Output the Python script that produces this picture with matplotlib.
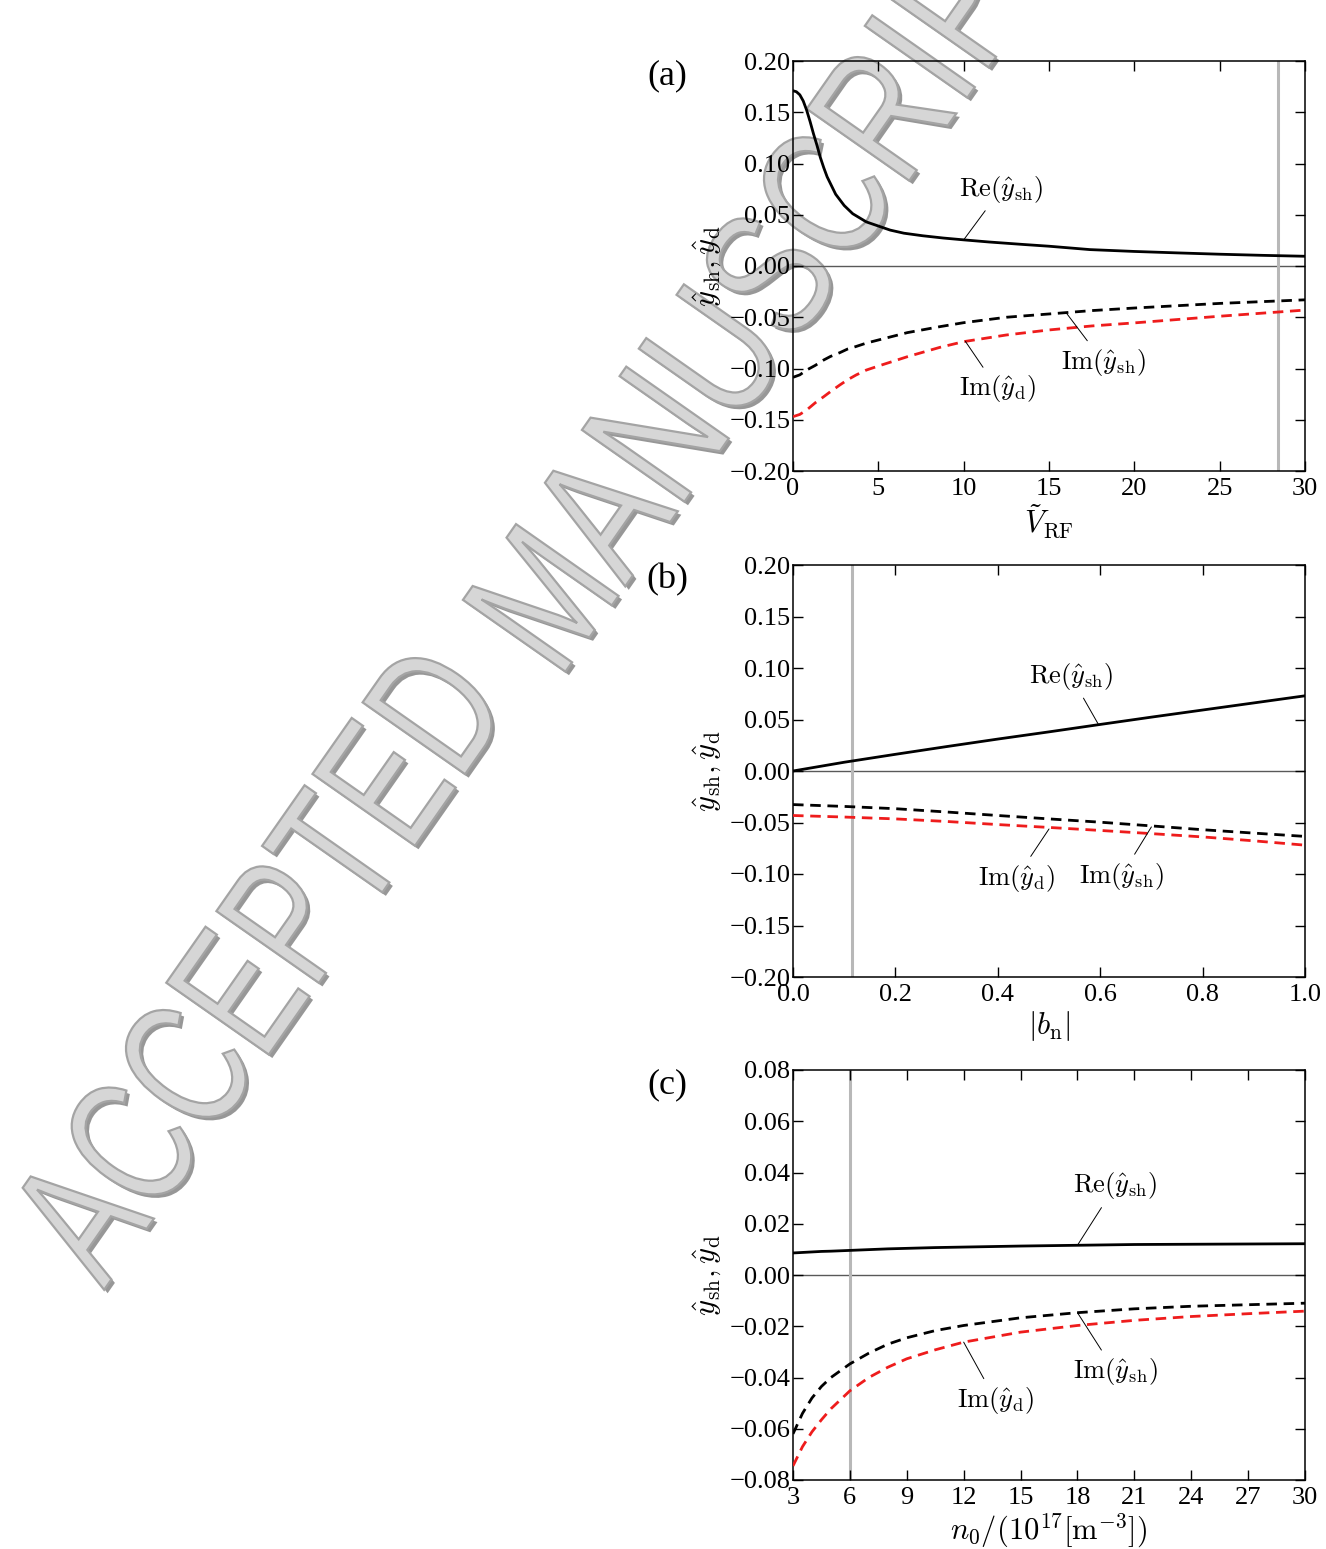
import numpy as np
import matplotlib
matplotlib.use('Agg')
from matplotlib import pyplot as plt
import matplotlib.transforms as mtransforms
import matplotlib.patheffects as pe
from matplotlib.textpath import TextPath
from matplotlib.font_manager import FontProperties
from matplotlib.patches import PathPatch

plt.rcParams['font.family'] = ['Liberation Serif', 'DejaVu Serif']
plt.rcParams['mathtext.fontset'] = 'cm'

# (a) зависимость от V_RF
v_re = [0, 0.2, 0.4, 0.6, 0.8, 1.0, 1.2, 1.4, 1.6, 1.8, 2.0, 2.5, 3.0, 3.5, 4.3, 5.0, 5.7, 6.5,
        7.6, 8.8, 10, 11.5, 13.5, 15, 17.4, 20, 22.5, 25, 27.5, 30]
re_a = [0.171, 0.170, 0.167, 0.161, 0.152, 0.141, 0.129, 0.118, 0.106, 0.096, 0.087, 0.070,
        0.059, 0.051, 0.043, 0.039, 0.035, 0.032, 0.0295, 0.0273, 0.0255, 0.0234, 0.021,
        0.0193, 0.016, 0.0142, 0.0128, 0.0115, 0.0104, 0.0095]
v_im = [0, 0.4, 0.8, 1.3, 1.8, 2.2, 2.75, 3.2, 3.7, 4.3, 5, 6.7, 8.6, 10, 12.5, 15, 17.5, 20,
        25, 30]
im_sh_a = [-0.1086, -0.1062, -0.1015, -0.097, -0.0917, -0.0882, -0.0845, -0.081, -0.0785,
           -0.0752, -0.0722, -0.065, -0.0592, -0.0553, -0.050, -0.0468, -0.0435, -0.041,
           -0.0365, -0.033]
im_d_a = [-0.147, -0.1448, -0.1405, -0.1335, -0.1275, -0.1225, -0.116, -0.111, -0.1063,
          -0.1015, -0.0976, -0.0885, -0.0794, -0.0738, -0.0673, -0.0624, -0.0585, -0.0555,
          -0.049, -0.043]

# (b) зависимость от |b_n|
bn = [0, 0.1, 0.2, 0.3, 0.4, 0.5, 0.6, 0.7, 0.8, 0.9, 1.0]
re_b = [0, 0.0085, 0.0162, 0.0237, 0.031, 0.038, 0.0452, 0.0523, 0.0592, 0.0661, 0.073]
im_sh_b = [-0.0326, -0.0344, -0.0366, -0.0398, -0.0432, -0.0465, -0.0497, -0.0533, -0.057,
           -0.0603, -0.0635]
im_d_b = [-0.0432, -0.0447, -0.0465, -0.049, -0.052, -0.0548, -0.0577, -0.0608, -0.064,
          -0.0678, -0.072]

# (c) зависимость от n0
n0 = [3, 3.5, 4, 4.5, 5, 6, 7, 8, 9, 10.5, 12, 15, 18, 21, 24, 27, 30]
re_c = [0.0086, 0.0088, 0.0090, 0.0092, 0.0093, 0.0096, 0.0099, 0.0102, 0.0104, 0.0107,
        0.0109, 0.0113, 0.0116, 0.0119, 0.0120, 0.0121, 0.0122]
im_sh_c = [-0.062, -0.054, -0.048, -0.0435, -0.040, -0.0347, -0.0305, -0.0270, -0.0245,
           -0.0217, -0.0197, -0.0167, -0.0147, -0.0132, -0.0122, -0.0116, -0.011]
im_d_c = [-0.0745, -0.067, -0.0612, -0.0565, -0.0522, -0.0452, -0.0400, -0.0360, -0.0327,
          -0.0292, -0.0262, -0.0223, -0.0197, -0.0177, -0.0162, -0.0151, -0.0141]

vlines = [28.4, 0.115, 6]

fig = plt.figure(figsize=(13.26, 15.49), dpi=100)

# водяной знак
fp = FontProperties(family='Liberation Sans')
for word, sx, x0, y0 in [('ACCEPTED', 0.72, 104, 259), ('MANUSCRIPT', 0.76, 559, 868)]:
    tp = TextPath((0, 0), word, size=182, prop=fp)
    tr = mtransforms.Affine2D().scale(sx, 1).rotate_deg(55).translate(x0, y0)
    patch = PathPatch(tr.transform_path(tp), facecolor='#d6d6d6', edgecolor='#a4a4a4', lw=1.6,
                      transform=mtransforms.IdentityTransform(), zorder=-5)
    patch.set_path_effects([pe.SimplePatchShadow(offset=(2.5, -2.5), shadow_rgbFace='#8c8c8c',
                                                 alpha=0.9), pe.Normal()])
    fig.add_artist(patch)

W, H = 1326, 1549
boxes = [(793, 61, 471), (793, 565, 977), (793, 1070, 1480)]
axes = []
for left, top, bottom in boxes:
    ax = fig.add_axes([left / W, (H - bottom) / H, 512 / W, (bottom - top) / H])
    ax.set_facecolor('none')
    axes.append(ax)

data = [
    (v_re, re_a, v_im, im_sh_a, v_im, im_d_a),
    (bn, re_b, bn, im_sh_b, bn, im_d_b),
    (n0, re_c, n0, im_sh_c, n0, im_d_c),
]
xlabels = [r'$\tilde{V}_{\rm RF}$', r'$|b_{\rm n}|$', r'$n_0/(10^{17}[{\rm m}^{-3}])$']
letters = ['(a)', '(b)', '(c)']
xlims = [(0, 30), (0, 1), (3, 30)]
ylims = [(-0.2, 0.2), (-0.2, 0.2), (-0.08, 0.08)]
xticks = [np.arange(0, 31, 5), np.arange(0, 1.01, 0.2), np.arange(3, 31, 3)]
yticks = [np.arange(-0.2, 0.201, 0.05), np.arange(-0.2, 0.201, 0.05), np.arange(-0.08, 0.081, 0.02)]
xfmt = ['%d', '%.1f', '%d']


def yfmt(t):
    if abs(t) < 1e-9:
        return '0.00'
    return ('%.2f' % t).replace('-', '\u2212')


# подписи: (текст, точка на кривой, позиция текста)
re_lbl = r'${\rm Re}(\hat{y}_{\rm sh})$'
imsh_lbl = r'${\rm Im}(\hat{y}_{\rm sh})$'
imd_lbl = r'${\rm Im}(\hat{y}_{\rm d})$'
notes = [
    [(re_lbl, (10, 0.0255), (12.2, 0.075)), (imsh_lbl, (16.0, -0.0455), (18.2, -0.094)),
     (imd_lbl, (10.1, -0.0735), (12.0, -0.120))],
    [(re_lbl, (0.597, 0.0448), (0.543, 0.092)), (imd_lbl, (0.50, -0.0563), (0.436, -0.104)),
     (imsh_lbl, (0.70, -0.0543), (0.641, -0.102))],
    [(re_lbl, (18, 0.0116), (20.0, 0.0348)), (imsh_lbl, (18, -0.0147), (20.0, -0.0378)),
     (imd_lbl, (12, -0.0262), (13.7, -0.049))],
]

for i, ax in enumerate(axes):
    x1, y1, x2, y2, x3, y3 = data[i]
    ax.axhline(0, color='0.35', lw=1.0, zorder=1)
    ax.axvline(vlines[i], color='#b8b8b8', lw=2.2, zorder=1)
    ax.plot(x1, y1, color='k', lw=2.0, zorder=3)
    ax.plot(x2, y2, color='k', lw=2.0, ls=(0, (3.8, 2.4)), zorder=3)
    ax.plot(x3, y3, color='#ee1c1c', lw=2.0, ls=(0, (3.8, 2.4)), zorder=3)
    ax.set_xlim(*xlims[i])
    ax.set_ylim(*ylims[i])
    ax.set_xticks(xticks[i])
    ax.set_yticks(yticks[i])
    ax.set_xticklabels([xfmt[i] % t for t in xticks[i]])
    ax.set_yticklabels([yfmt(t) for t in yticks[i]])
    ax.tick_params(direction='in', top=True, right=True, length=7, width=1.0, labelsize=19)
    ax.tick_params(axis='y', pad=2)
    ax.tick_params(axis='x', pad=5)
    for s in ax.spines.values():
        s.set_linewidth(1.1)
    ax.set_xlabel(xlabels[i], fontsize=22, labelpad=2)
    ax.set_ylabel(r'$\hat{y}_{\rm sh},\hat{y}_{\rm d}$', fontsize=22, labelpad=4)
    ax.text(-0.246, 0.965, letters[i], transform=ax.transAxes, fontsize=26, ha='center',
            va='center')
    for txt, xy, xyt in notes[i]:
        ax.annotate(txt, xy=xy, xytext=xyt, fontsize=19, ha='center', va='center', zorder=4,
                    arrowprops=dict(arrowstyle='-', color='k', lw=0.7, shrinkA=3, shrinkB=0))

fig.savefig('out.png', dpi=100)
